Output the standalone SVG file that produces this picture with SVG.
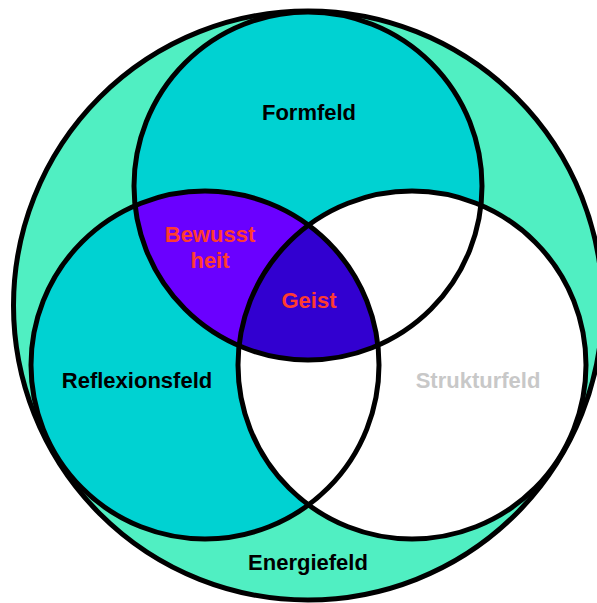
<svg xmlns="http://www.w3.org/2000/svg" width="597" height="603" viewBox="0 0 597 603">
  <style>
    .ring { fill: none; stroke: #000; stroke-width: 5; }
    .lbl { font-family: "Liberation Sans", Arial, sans-serif; font-weight: bold; font-size: 22px; text-anchor: middle; }
    .dark { fill: #000; }
    .red { fill: #FF3B30; }
    .grey { fill: #C8C8C8; }
  </style>
  <defs>
    <clipPath id="clipF"><circle cx="308" cy="186" r="174"/></clipPath>
    <clipPath id="clipR"><circle cx="205" cy="365" r="174"/></clipPath>
  </defs>
  <g id="energiefeld">
    <circle cx="308" cy="305.5" r="294.5" fill="#50EFC2"/>
  </g>
  <g id="formfeld">
    <circle cx="308" cy="186" r="174" fill="#00D2D2"/>
  </g>
  <g id="reflexionsfeld">
    <circle cx="205" cy="365" r="174" fill="#00D2D2"/>
  </g>
  <g id="bewusstheit">
    <g clip-path="url(#clipF)">
      <circle cx="205" cy="365" r="174" fill="#6A00FF"/>
    </g>
  </g>
  <g id="strukturfeld">
    <circle cx="412" cy="365" r="174" fill="#FFFFFF"/>
  </g>
  <g id="geist">
    <g clip-path="url(#clipF)">
      <g clip-path="url(#clipR)">
        <circle cx="412" cy="365" r="174" fill="#3200D0"/>
      </g>
    </g>
  </g>
  <g id="outlines">
    <circle class="ring" cx="308" cy="305.5" r="294.5"/>
    <circle class="ring" cx="308" cy="186" r="174"/>
    <circle class="ring" cx="205" cy="365" r="174"/>
    <circle class="ring" cx="412" cy="365" r="174"/>
  </g>
  <g id="labels">
    <text class="lbl dark" x="309" y="120">Formfeld</text>
    <text class="lbl red" x="210" y="242">Bewusst</text>
    <text class="lbl red" x="210" y="268">heit</text>
    <text class="lbl red" x="309" y="308">Geist</text>
    <text class="lbl dark" x="137" y="388">Reflexionsfeld</text>
    <text class="lbl grey" x="478" y="388">Strukturfeld</text>
    <text class="lbl dark" x="308" y="570">Energiefeld</text>
  </g>
</svg>
